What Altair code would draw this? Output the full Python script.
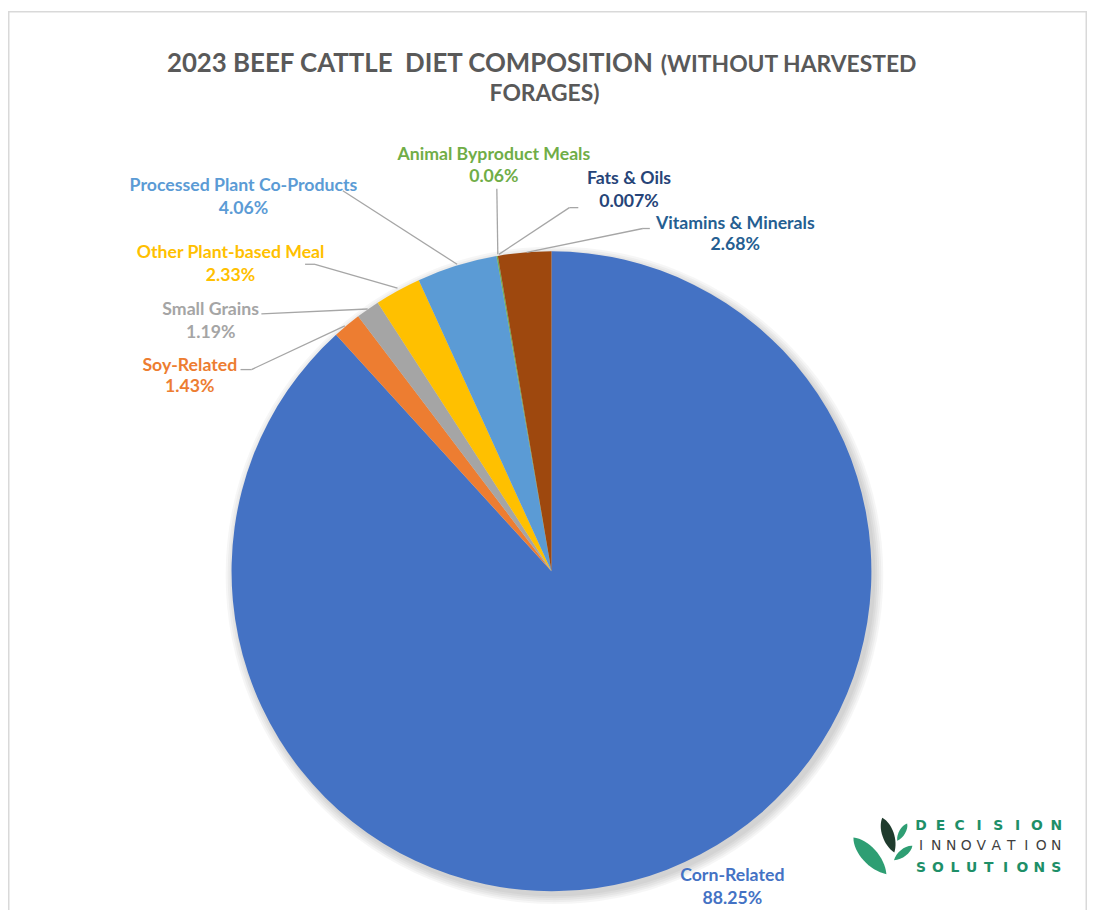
import math
import altair as alt
import pandas as pd

# ---------------- data ----------------
categories = ["Corn-Related", "Soy-Related", "Small Grains", "Other Plant-based Meal",
              "Processed Plant Co-Products", "Animal Byproduct Meals", "Fats & Oils",
              "Vitamins & Minerals"]
values = [88.25, 1.43, 1.19, 2.33, 4.06, 0.06, 0.007, 2.68]
slice_colors = ["#4472C4", "#ED7D31", "#A5A5A5", "#FFC000", "#5B9BD5", "#70AD47",
                "#264478", "#9E480E"]
label_colors = ["#4472C4", "#ED7D31", "#A5A5A5", "#FFC000", "#5B9BD5", "#70AD47",
                "#264478", "#255E91"]

title_main = "2023 BEEF CATTLE\u00a0 DIET COMPOSITION"
title_paren = "(WITHOUT HARVESTED"
title_line2 = "FORAGES)"
logo_words = ["DECISION", "INNOVATION", "SOLUTIONS"]

# ---------------- layout (chart pixels) ----------------
W, H = 1086, 905
CX, CY, R = 547, 564, 322
# label anchor: centre x, baseline of name line, baseline of percent line
label_x = [729, 183, 204, 224, 237, 489, 625, 732]
label_y1 = [876, 362, 306, 249, 181, 150, 174, 219]
label_y2 = [899, 384, 329, 272, 204, 172, 197, 241]

# leader lines: (category index, x1, y1, x2, y2)
leader_segments = [
    (1, 234, 361, 245, 361), (1, 245, 361, 339, 317),
    (2, 255, 305, 362, 300),
    (3, 299, 255, 309, 255), (3, 309, 255, 392, 279),
    (4, 337, 181, 452, 255),
    (5, 492, 179, 493, 245),
    (6, 574, 198, 565, 198), (6, 565, 198, 494, 245),
    (7, 646, 219, 639, 219), (7, 639, 219, 522, 243),
]

# ---------------- tables ----------------
pie_df = pd.DataFrame({"category": categories, "value": values,
                       "order": list(range(len(values)))})

lab_df = pd.DataFrame({
    "name": categories,
    "pct": [f"{v:g}%" for v in values],
    "lc": label_colors,
    "lx": label_x, "ly1": label_y1, "ly2": label_y2,
})

seg_df = pd.DataFrame(leader_segments, columns=["i", "x1", "y1", "x2", "y2"])
one = pd.DataFrame({"a": [0]})

# ---------------- layers ----------------
border_df = pd.DataFrame({"x1": [0, 0.75, W - 0.75], "y1": [0.75, 0, 0],
                          "x2": [W, 0.75, W - 0.75], "y2": [0.75, H, H]})
border = alt.Chart(border_df).mark_rule(color="#D9D9D9", strokeWidth=1.5).encode(
    x=alt.X("x1:Q", scale=None), y=alt.Y("y1:Q", scale=None), x2="x2:Q", y2="y2:Q")

shadow_layers = []
for r in [331, 329, 327, 325, 323]:
    shadow_layers.append(
        alt.Chart(one).mark_arc(outerRadius=r, theta=0, theta2=2 * math.pi,
                                color="#000000", opacity=0.035).encode(
            x=alt.value(CX + 3), y=alt.value(CY + 4))
    )

pie = alt.Chart(pie_df).mark_arc(outerRadius=R).encode(
    theta=alt.Theta("value:Q", stack=True),
    order=alt.Order("order:Q"),
    color=alt.Color("category:N", scale=alt.Scale(domain=categories, range=slice_colors),
                    legend=None),
    x=alt.value(CX), y=alt.value(CY),
)

leaders = alt.Chart(seg_df).mark_rule(color="#A6A6A6", strokeWidth=1.3).encode(
    x=alt.X("x1:Q", scale=None), y=alt.Y("y1:Q", scale=None),
    x2="x2:Q", y2="y2:Q",
)

lab_font = "Lato"
names = alt.Chart(lab_df).mark_text(font=lab_font, fontSize=17.8, fontWeight="bold",
                                    align="center", baseline="alphabetic").encode(
    x=alt.X("lx:Q", scale=None), y=alt.Y("ly1:Q", scale=None),
    text="name:N",
    color=alt.Color("lc:N", scale=None),
)
pcts = alt.Chart(lab_df).mark_text(font=lab_font, fontSize=17.8, fontWeight="bold",
                                   align="center", baseline="alphabetic").encode(
    x=alt.X("lx:Q", scale=None), y=alt.Y("ly2:Q", scale=None),
    text="pct:N",
    color=alt.Color("lc:N", scale=None),
)

title_font = "Lato"
t1 = alt.Chart(one).mark_text(text=title_main, font=title_font, fontSize=26, fontWeight="bold",
                              color="#595959", align="right", baseline="alphabetic").encode(
    x=alt.value(649), y=alt.value(61))
t2 = alt.Chart(one).mark_text(text=title_paren, font=title_font, fontSize=23, fontWeight="bold",
                              color="#595959", align="left", baseline="alphabetic").encode(
    x=alt.value(657), y=alt.value(61))
t3 = alt.Chart(one).mark_text(text=title_line2, font=title_font, fontSize=23, fontWeight="bold",
                              color="#595959", align="center", baseline="alphabetic").encode(
    x=alt.value(540), y=alt.value(91))

# ---------------- logo ----------------
leaf_path = "M0,-1 C0.42,-0.55 0.42,0.45 0,1 C-0.42,0.45 -0.42,-0.55 0,-1 Z"
leaf_df = pd.DataFrame({
    "lx": [867.5, 886, 900, 901],
    "ly": [850.5, 829.5, 826.5, 847.5],
    "size": [49.6 ** 2, 37 ** 2, 20 ** 2, 23.5 ** 2],
    "angle": [318, 341, 30, 52],
    "c": ["#2E9E73", "#1F3B2D", "#2E9E73", "#2E9E73"],
})
leaves = alt.Chart(leaf_df).mark_point(shape=leaf_path, filled=True, opacity=1,
                                       strokeWidth=0).encode(
    x=alt.X("lx:Q", scale=None), y=alt.Y("ly:Q", scale=None),
    size=alt.Size("size:Q", scale=None),
    angle=alt.Angle("angle:Q", scale=None),
    color=alt.Color("c:N", scale=None),
)

rows = []
word_base = [824, 845, 867]
word_color = ["#1E8F68", "#3F3F3F", "#1E8F68"]
for w, word in enumerate(logo_words):
    n = len(word)
    for k, ch in enumerate(word):
        rows.append({"ch": ch, "w": w,
                     "x": 919 + k * (136 / (n - 1)),
                     "y": word_base[w], "c": word_color[w]})
letters_df = pd.DataFrame(rows)
logo_bold = alt.Chart(letters_df[letters_df.w != 1]).mark_text(
    font="DejaVu Sans", fontSize=14, fontWeight="bold", align="center",
    baseline="alphabetic").encode(
    x=alt.X("x:Q", scale=None), y=alt.Y("y:Q", scale=None), text="ch:N",
    color=alt.Color("c:N", scale=None))
logo_reg = alt.Chart(letters_df[letters_df.w == 1]).mark_text(
    font="DejaVu Sans", fontSize=14, align="center", baseline="alphabetic").encode(
    x=alt.X("x:Q", scale=None), y=alt.Y("y:Q", scale=None), text="ch:N",
    color=alt.Color("c:N", scale=None))

chart = alt.layer(
    border, *shadow_layers, pie, leaders, names, pcts, t1, t2, t3, leaves, logo_bold, logo_reg
).properties(
    width=W, height=H, padding=0, autosize="none", background="white"
).configure_view(strokeWidth=0)

chart.save("out.html", embed_options={"renderer": "svg", "actions": False})
